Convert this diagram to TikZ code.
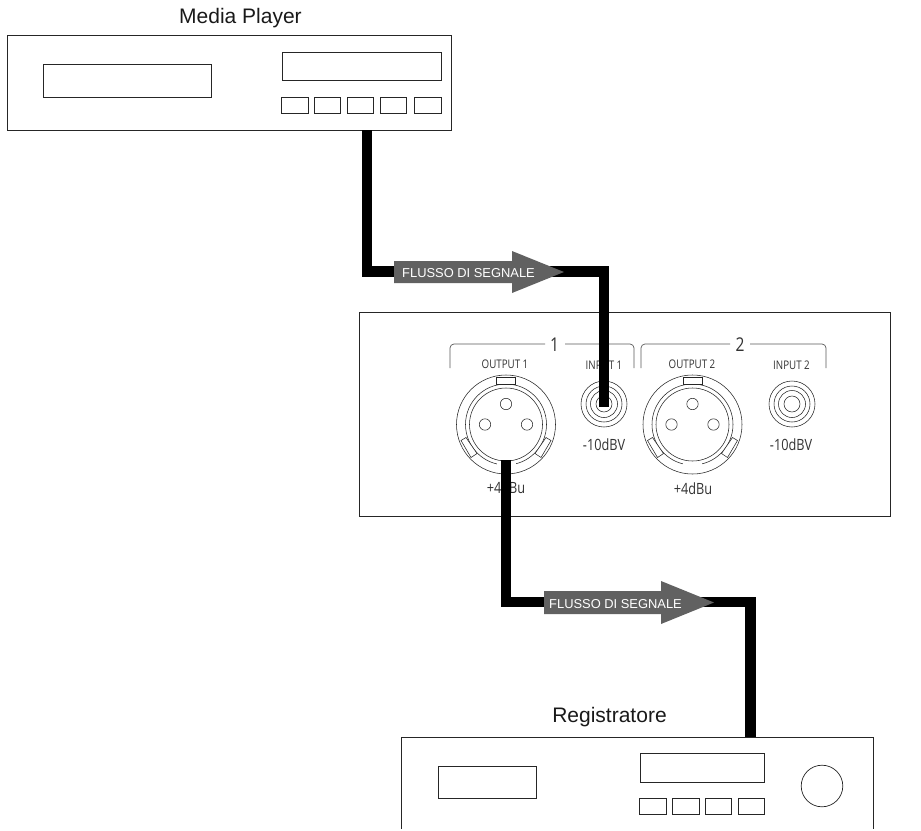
\documentclass[tikz,border=0pt]{standalone}
\usepackage{fontspec}
\setmainfont{Liberation Sans}
\newfontfamily\panelfont{Open Sans}[FakeStretch=0.82]
\tikzset{
  x=1pt,y=-1pt,
  device/.style={draw=black!85,line width=0.8pt,fill=white},
  ctl/.style={draw=black!85,line width=0.7pt},
  thin ring/.style={draw=black!85,line width=0.55pt},
  bracket/.style={draw=black!65,line width=0.7pt,rounded corners=4pt},
  cable/.style={draw=black,line width=10.5pt,line join=miter},
  flow/.style={fill=black!62,draw=none},
  flowtext/.style={text=white,font=\fontsize{12.9}{14}\selectfont,inner sep=0pt,anchor=west},
  title/.style={font=\fontsize{21}{24}\selectfont,inner sep=0pt,text=black!90},
  plabel/.style={font=\panelfont\fontsize{11.9}{13}\selectfont,inner sep=0pt,text=black!80},
  vlabel/.style={font=\panelfont\fontsize{15.5}{16}\selectfont,inner sep=0pt,text=black!80},
  numlabel/.style={font=\panelfont\fontsize{19}{20}\selectfont,inner sep=0pt,text=black!80},
}
\newcommand{\xlrconn}[2]{%
  \begin{scope}[shift={(#1,#2)}]
    \draw[thin ring] (0,0) circle (49.5);
    \draw[thin ring] (0,0) circle (40.5);
    \draw[thin ring] (0,0) circle (36.5);
    \draw[thin ring,fill=white] (-9.5,-47) rectangle (9.5,-40);
    \draw[thin ring] (0,-20.5) circle (5.7);
    \draw[thin ring] (-21,0) circle (5.7);
    \draw[thin ring] (21,0) circle (5.7);
    \draw[thin ring,fill=white] (-45,16) -- (-40,13) -- (-29,29) -- (-35,33) -- cycle;
    \draw[thin ring,fill=white] (45,16) -- (40,13) -- (29,29) -- (35,33) -- cycle;
    \fill[white] (-9.5,38) rectangle (9.5,42);
  \end{scope}}
\newcommand{\jackconn}[2]{%
  \begin{scope}[shift={(#1,#2)}]
    \draw[thin ring] (0,0) circle (23);
    \draw[thin ring] (0,0) circle (18);
    \draw[thin ring] (0,0) circle (13.5);
    \draw[thin ring] (0,0) circle (8);
  \end{scope}}
\begin{document}
\begin{tikzpicture}
\useasboundingbox (0,0) rectangle (921,830);
% media player
\node[title] (mpt) at (240.5,18) {Media Player};
\node[device,minimum width=444pt,minimum height=95pt,inner sep=0pt] (mp) at (229,82.5) {};
\draw[ctl] (43,64) rectangle (211,97);
\draw[ctl] (282,52) rectangle (441,80);
\foreach \a/\b in {281/308,314/340,347/373,380/406,414/441}
  \draw[ctl] (\a,97) rectangle (\b,113);
% interface
\node[device,minimum width=531pt,minimum height=204pt,inner sep=0pt] (ifc) at (624.5,414) {};
\draw[bracket] (450,368) -- (450,344) -- (545,344);
\draw[bracket] (565,344) -- (634,344) -- (634,368);
\draw[bracket] (641,368) -- (641,344) -- (730,344);
\draw[bracket] (750,344) -- (826,344) -- (826,368);
\node[numlabel] (n1) at (554.5,345) {1};
\node[numlabel] (n2) at (740,345) {2};
\node[plabel] (o1) at (505,364.5) {OUTPUT 1};
\node[plabel] (i1) at (604,365) {INPUT 1};
\node[plabel] (o2) at (692,364.5) {OUTPUT 2};
\node[plabel] (i2) at (791.5,365) {INPUT 2};
\xlrconn{506}{424.5}
\xlrconn{692.5}{424.5}
\jackconn{604}{404}
\jackconn{792}{404}
\node[vlabel] (v1) at (604,445) {-10dBV};
\node[vlabel] (v2) at (791,445) {-10dBV};
\node[vlabel] (p1) at (506,488) {+4dBu};
\node[vlabel] (p2) at (693,489) {+4dBu};
% recorder
\node[title] (rt) at (609.5,717) {Registratore};
\coordinate (rtl) at (401,737);
\coordinate (rtr) at (873,737);
\draw[device,fill=none] (401,829) -- (rtl) -- (rtr) -- (873,829);
\draw[ctl] (438,766) rectangle (536,798);
\draw[ctl] (640,753) rectangle (764,782);
\foreach \a/\b in {639/666,672/699,705/731,738/764}
  \draw[ctl] (\a,798) rectangle (\b,814);
\draw[ctl] (822,786) circle (20.8);
% cables
\coordinate (c1a) at (367,130);
\coordinate (c1b) at (367,271.5);
\coordinate (c1c) at (604,271.5);
\coordinate (c1d) at (604,407);
\draw[cable] (c1a) -- (c1b) -- (c1c) -- (c1d);
\coordinate (c2a) at (506,460);
\coordinate (c2b) at (506,602);
\coordinate (c2c) at (750.5,602);
\coordinate (c2d) at (750.5,737);
\draw[cable] (c2a) -- (c2b) -- (c2c) -- (c2d);
% arrows
\fill[flow] (394,261) -- (512,261) -- (512,251) -- (564,272) -- (512,293) -- (512,283) -- (394,283) -- cycle;
\node[flowtext] (f1) at (402,273) {FLUSSO DI SEGNALE};
\fill[flow] (544,591) -- (661,591) -- (661,581) -- (714,602.5) -- (661,624) -- (661,614) -- (544,614) -- cycle;
\node[flowtext] (f2) at (549,604) {FLUSSO DI SEGNALE};
\end{tikzpicture}
\end{document}
